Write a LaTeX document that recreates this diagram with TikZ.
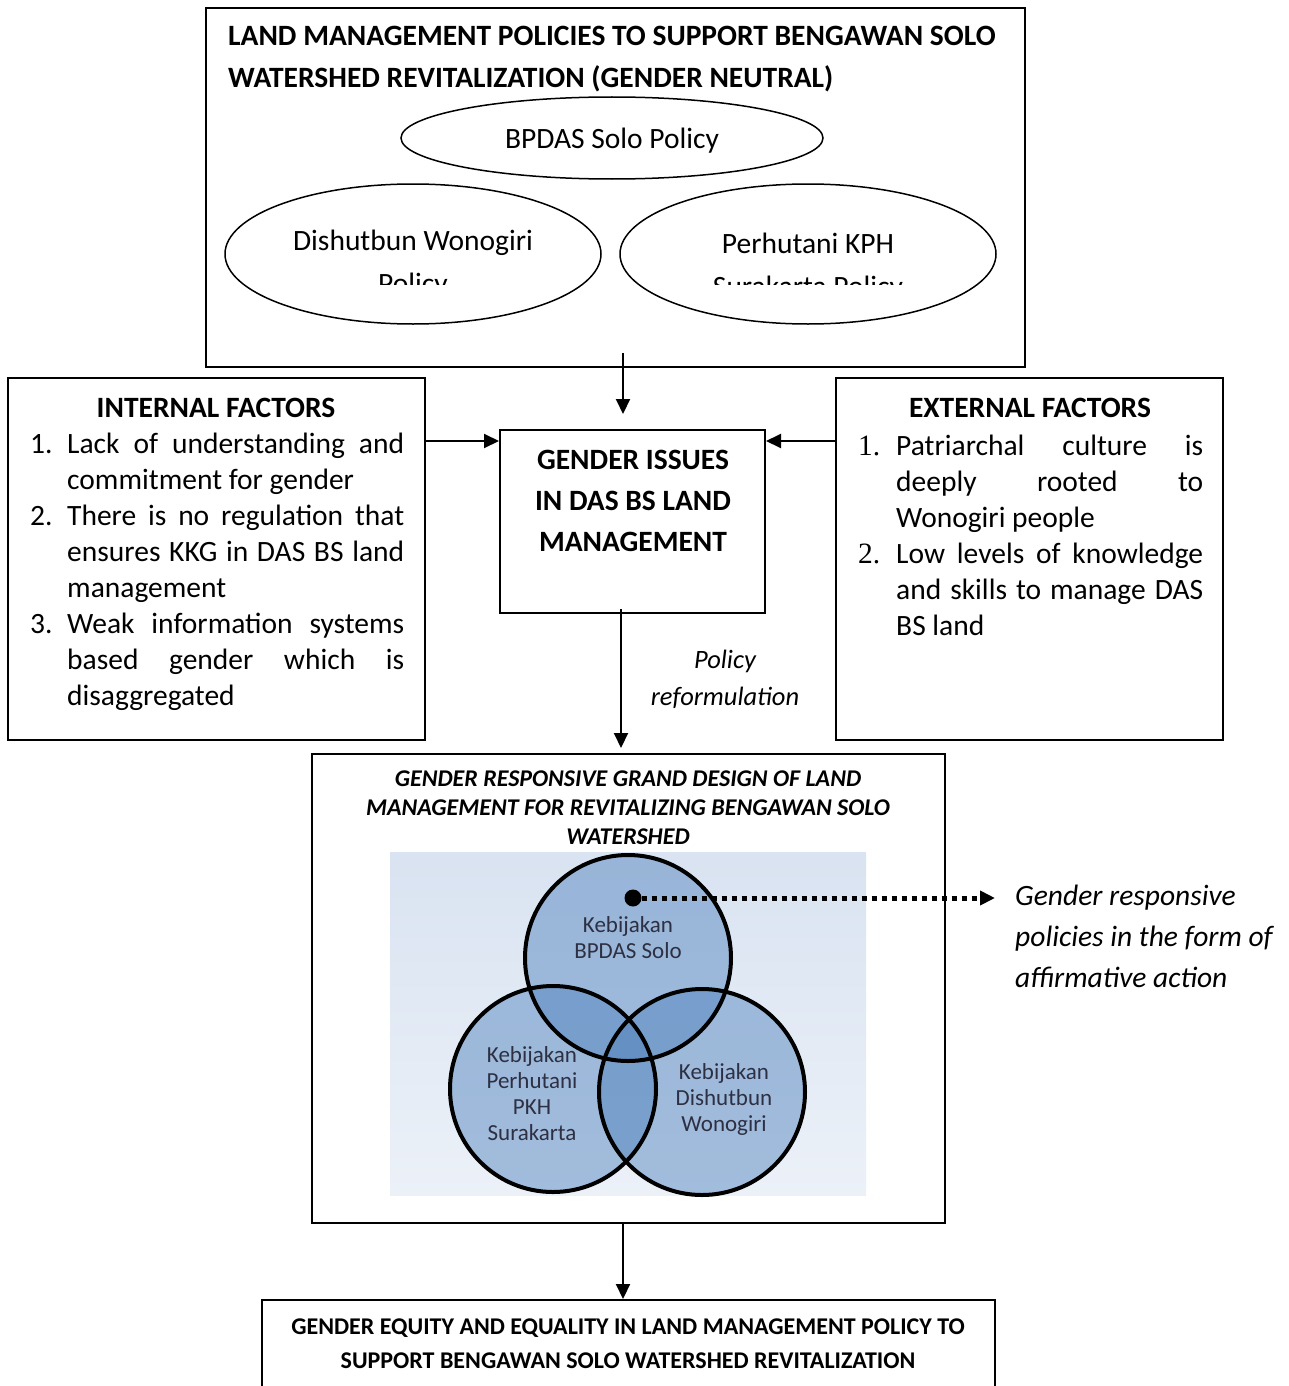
\documentclass[tikz,border=0pt]{standalone}
\usepackage{fontspec}
\setmainfont{Carlito}
\newfontfamily\numfont{Liberation Serif}
\usepackage{xcolor}
\usetikzlibrary{positioning,arrows.meta,shapes.geometric}

\definecolor{vennblue}{RGB}{79,129,189}
\definecolor{venntext}{RGB}{45,48,66}
\definecolor{bgtop}{RGB}{217,227,241}
\definecolor{bgbot}{RGB}{236,241,248}

\newcommand{\spreadline}[2]{\makebox[#1pt][s]{#2}}

\tikzset{
  box/.style={draw, line width=2pt, inner sep=0pt},
  oval/.style={draw, ellipse, line width=1.5pt, inner sep=0pt},
  arr/.style={-{Triangle[length=15pt,width=14pt]}, line width=2pt},
  big/.style={inner sep=0pt, font=\fontsize{29.5}{36}\selectfont},
  small/.style={inner sep=0pt, font=\fontsize{24}{29}\selectfont},
  vennfill/.style={circle, fill=vennblue, fill opacity=0.47, minimum size=206pt, inner sep=0pt},
  vennlabel/.style={inner sep=0pt, text=venntext, align=center, font=\fontsize{23}{26}\selectfont},
}

\begin{document}
\begin{tikzpicture}[x=1pt,y=-1pt]
\useasboundingbox (0,0) rectangle (1289,1386);

% top box with the three policies
\node[box, minimum width=819pt, minimum height=359pt] (top) at (615.5,187.5) {};
\node[big, anchor=base west, align=left, font=\fontsize{29.5}{42}\selectfont\bfseries] (toptitle) at (228,88)
  {LAND MANAGEMENT POLICIES TO SUPPORT BENGAWAN SOLO\\WATERSHED REVITALIZATION (GENDER NEUTRAL)};
\node[oval, minimum width=422pt, minimum height=82pt] (bpdas) at (612,138) {};
\node[big, anchor=base] at (612,148) {BPDAS Solo Policy};
\node[oval, minimum width=376pt, minimum height=140pt] (dishut) at (413,254) {};
\node[oval, minimum width=376pt, minimum height=140pt] (perhut) at (808,254) {};
\begin{scope}
  \clip (220,200) rectangle (1000,284);
  \node[big, anchor=base, align=center, font=\fontsize{29.5}{43}\selectfont] at (413,293) {Dishutbun Wonogiri\\Policy};
  \node[big, anchor=base, align=center, font=\fontsize{29.5}{43}\selectfont] at (808,296) {Perhutani KPH\\Surakarta Policy};
\end{scope}

% middle row
\node[box, minimum width=265pt, minimum height=183pt] (gender) at (632.5,521.5) {};
\node[big, anchor=base, align=center, font=\fontsize{29.5}{41}\selectfont\bfseries] at (633,551)
  {GENDER ISSUES\\IN DAS BS LAND\\MANAGEMENT};

\node[box, minimum width=417pt, minimum height=362pt] (int) at (216.5,559) {};
\node[big, anchor=base, font=\fontsize{29.5}{36}\selectfont\bfseries] at (216,417) {INTERNAL FACTORS};
\node[big, anchor=base west, align=left] (intlist) at (30,705)
  {\makebox[37pt][l]{1.}\spreadline{337}{Lack of understanding and}\\
   \hspace*{37pt}commitment for gender\\
   \makebox[37pt][l]{2.}\spreadline{337}{There is no regulation that}\\
   \hspace*{37pt}\spreadline{337}{ensures KKG in DAS BS land}\\
   \hspace*{37pt}management\\
   \makebox[37pt][l]{3.}\spreadline{337}{Weak information systems}\\
   \hspace*{37pt}\spreadline{337}{based gender which is}\\
   \hspace*{37pt}disaggregated};

\node[box, minimum width=387pt, minimum height=362pt] (ext) at (1029.5,559) {};
\node[big, anchor=base, font=\fontsize{29.5}{36}\selectfont\bfseries] at (1030,417) {EXTERNAL FACTORS};
\node[big, anchor=base west, align=left] (extlist) at (858,635)
  {\makebox[38pt][l]{\numfont 1.}\spreadline{307}{Patriarchal culture is}\\
   \hspace*{38pt}\spreadline{307}{deeply rooted to}\\
   \hspace*{38pt}Wonogiri people\\
   \makebox[38pt][l]{\numfont 2.}\spreadline{307}{Low levels of knowledge}\\
   \hspace*{38pt}\spreadline{307}{and skills to manage DAS}\\
   \hspace*{38pt}BS land};

\node[big, anchor=base, align=center, font=\fontsize{26.5}{37}\selectfont\itshape] (reform) at (725,705)
  {Policy\\reformulation};

% grand design box
\node[box, minimum width=633pt, minimum height=469pt] (design) at (628.5,988.5) {};
\node[small, anchor=base, align=center, font=\fontsize{24}{29}\selectfont\bfseries\itshape] at (628,844)
  {GENDER RESPONSIVE GRAND DESIGN OF LAND\\MANAGEMENT FOR REVITALIZING BENGAWAN SOLO\\WATERSHED};
\node[inner sep=0pt, minimum width=476pt, minimum height=343pt, top color=bgtop, bottom color=bgbot] (vbg) at (628,1023.5) {};
\node[vennfill] (ctop) at (628,958) {};
\node[vennfill] (cleft) at (553,1089) {};
\node[vennfill] (cright) at (702,1092) {};
\foreach \c in {ctop,cleft,cright}
  \draw[line width=4pt] (\c) circle (103pt);
\node[vennlabel, anchor=base] at (628,958) {Kebijakan\\BPDAS Solo};
\node[vennlabel, anchor=base] at (532,1140) {Kebijakan\\Perhutani\\PKH\\Surakarta};
\node[vennlabel, anchor=base] at (724,1131) {Kebijakan\\Dishutbun\\Wonogiri};

\node[circle, fill, inner sep=0pt, minimum size=17pt] (dot) at (633,898) {};
\node[big, anchor=base west, align=left, font=\fontsize{29.5}{41}\selectfont\itshape] (aff) at (1015,987)
  {Gender responsive\\policies in the form of\\affirmative action};
\draw[line width=5pt, dash pattern=on 5pt off 5pt, -{Triangle[length=15pt,width=14pt]}]
  (dot) -- ([xshift=-20pt]dot -| aff.west);

% bottom box
\node[box, minimum width=733pt, minimum height=140pt] (goal) at (628.5,1370) {};
\node[small, anchor=base, align=center, font=\fontsize{24}{34}\selectfont\bfseries] at (628,1368)
  {GENDER EQUITY AND EQUALITY IN LAND MANAGEMENT POLICY TO\\SUPPORT BENGAWAN SOLO WATERSHED REVITALIZATION};

% arrows
\draw[arr] ([xshift=7.5pt,yshift=15pt]top.south) -- ([xshift=7.5pt,yshift=15pt]top.south |- gender.north);
\draw[arr] ([yshift=-12pt]int.north east |- gender.north) -- ([yshift=-12pt]gender.north west);
\draw[arr] ([yshift=-12pt]ext.north west |- gender.north) -- ([yshift=-12pt]gender.north east);
\draw[arr] ([xshift=-11.5pt,yshift=5pt]gender.south) -- ([xshift=-11.5pt,yshift=5pt]gender.south |- design.north);
\draw[arr] ([xshift=-5.5pt]design.south) -- ([xshift=-5.5pt]design.south |- goal.north);
\end{tikzpicture}
\end{document}
